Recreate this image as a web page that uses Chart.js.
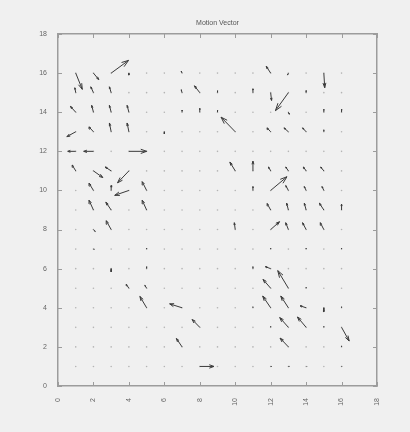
<!DOCTYPE html>
<html>
<head>
<meta charset="utf-8">
<title>Motion Vector</title>
<script src="https://cdn.jsdelivr.net/npm/chart.js@4.4.1/dist/chart.umd.min.js"></script>
<style>
  html, body { margin: 0; padding: 0; background: #f0f0f0; }
</style>
</head>
<body>
<canvas id="quiver" width="410" height="432"></canvas>
<script>
// block grid (centres of the 16x16 blocks)
const gridCols = [1, 2, 3, 4, 5, 6, 7, 8, 9, 10, 11, 12, 13, 14, 15, 16];
const gridRows = [1, 2, 3, 4, 5, 6, 7, 8, 9, 10, 11, 12, 13, 14, 15, 16];

// non-zero motion vectors, row by row from the top
const arrowX = [
  1, 2, 3, 4, 7, 12, 13, 15,
  1, 2, 3, 7, 8, 9, 11, 12, 13, 14,
  1, 2, 3, 4, 7, 8, 9, 13, 15, 16,
  1, 2, 3, 4, 6, 10, 12, 13, 14, 15,
  1, 2, 4,
  1, 2, 3, 4, 10, 11, 12, 13, 14, 15,
  2, 3, 4, 5, 11, 12, 13, 14, 15,
  2, 3, 5, 12, 13, 14, 15, 16,
  2, 3, 10, 12, 13, 14, 15,
  2, 5, 12, 14, 16,
  3, 5, 11, 12,
  4, 5, 12, 13, 14,
  5, 7, 11, 12, 13, 14, 15, 16,
  8, 12, 13, 14, 15, 16,
  7, 13, 16,
  8, 12, 13, 14, 16
];
const arrowY = [
  16, 16, 16, 16, 16, 16, 16, 16,
  15, 15, 15, 15, 15, 15, 15, 15, 15, 15,
  14, 14, 14, 14, 14, 14, 14, 14, 14, 14,
  13, 13, 13, 13, 13, 13, 13, 13, 13, 13,
  12, 12, 12,
  11, 11, 11, 11, 11, 11, 11, 11, 11, 11,
  10, 10, 10, 10, 10, 10, 10, 10, 10,
  9, 9, 9, 9, 9, 9, 9, 9,
  8, 8, 8, 8, 8, 8, 8,
  7, 7, 7, 7, 7,
  6, 6, 6, 6,
  5, 5, 5, 5, 5,
  4, 4, 4, 4, 4, 4, 4, 4,
  3, 3, 3, 3, 3, 3,
  2, 2, 2,
  1, 1, 1, 1, 1
];
const arrowU = [
  0.37, 0.3, 0.98, 0, -0.05, -0.25, -0.05, 0.05,
  -0.05, -0.15, -0.1, -0.05, -0.3, 0, 0, 0.05, -0.73, 0,
  -0.3, -0.1, -0.1, -0.1, 0, 0, 0, 0.05, 0, 0,
  -0.5, -0.25, -0.1, -0.1, 0, -0.8, -0.2, -0.25, -0.2, 0,
  -0.45, -0.55, 1.0,
  -0.2, 0.53, -0.34, -0.64, -0.3, 0, -0.12, -0.15, -0.15, -0.18,
  -0.25, 0, -0.8, -0.25, 0, 0.92, -0.15, -0.1, -0.1,
  -0.25, -0.3, -0.25, -0.2, -0.1, -0.1, -0.25, 0,
  0.1, -0.28, -0.05, 0.5, -0.15, -0.2, -0.2,
  0.05, 0, 0, 0, 0,
  0, 0, 0, -0.3,
  -0.15, -0.1, -0.43, -0.6, 0,
  -0.38, -0.7, 0, -0.45, -0.43, -0.34, 0, 0,
  -0.43, 0, -0.49, -0.49, 0, 0.43,
  -0.32, -0.47, 0,
  0.8, 0.05, 0.05, 0.05, 0.03
];
const arrowV = [
  -0.83, -0.33, 0.65, -0.1, 0.1, 0.35, -0.1, -0.75,
  0.25, 0.3, 0.3, 0.15, 0.35, 0.1, 0.2, -0.4, -0.92, 0.1,
  0.3, 0.35, 0.35, 0.35, 0.1, 0.2, 0.1, -0.1, 0.15, 0.15,
  -0.25, 0.25, 0.45, 0.45, -0.1, 0.75, 0.2, 0.2, 0.2, 0.1,
  0, 0, 0,
  0.3, -0.34, 0.2, -0.61, 0.45, 0.5, 0.2, 0.2, 0.2, 0.2,
  0.37, 0.25, -0.25, 0.45, 0.2, 0.7, 0.25, 0.2, 0.2,
  0.5, 0.4, 0.5, 0.33, 0.35, 0.35, 0.35, 0.3,
  -0.1, 0.45, 0.35, 0.4, 0.35, 0.35, 0.35,
  0, 0.05, 0.05, 0.05, 0.05,
  -0.15, 0.1, 0.1, 0.1,
  0.2, 0.15, 0.45, 0.9, 0.05,
  0.58, 0.2, 0.05, 0.6, 0.6, 0.1, -0.2, 0.05,
  0.4, 0.05, 0.5, 0.53, 0.05, -0.7,
  0.43, 0.45, 0.05,
  0, 0, 0, 0, 0
];

const xTickVals = [0, 2, 4, 6, 8, 10, 12, 14, 16, 18];
const yTickVals = [0, 2, 4, 6, 8, 10, 12, 14, 16, 18];

const HEAD = 0.33; // matlab quiver head size / width
const axisColor = "#9c9c9c";
const labelFont = { family: "'Liberation Sans', Arial, sans-serif", size: 7 };

// one dot per block
const gridPoints = [];
gridRows.forEach((y) => {
  gridCols.forEach((x) => gridPoints.push({ x: x, y: y }));
});

// shafts + open heads, broken apart by null points
const shafts = [];
arrowX.forEach((x0, i) => {
  const y0 = arrowY[i];
  const u = arrowU[i];
  const v = arrowV[i];
  const x1 = x0 + u;
  const y1 = y0 + v;
  shafts.push({ x: x0, y: y0 }, { x: x1, y: y1 }, { x: x1, y: null });
  shafts.push(
    { x: x1 - HEAD * (u + HEAD * v), y: y1 - HEAD * (v - HEAD * u) },
    { x: x1, y: y1 },
    { x: x1 - HEAD * (u - HEAD * v), y: y1 - HEAD * (v + HEAD * u) },
    { x: x1, y: null }
  );
});

// ticks pointing into the box, on all four sides
const inwardTicks = {
  id: "inwardTicks",
  afterDatasetsDraw(chart) {
    const { ctx, chartArea: a, scales } = chart;
    ctx.save();
    ctx.strokeStyle = axisColor;
    ctx.lineWidth = 1;
    ctx.beginPath();
    scales.x.ticks.forEach((t) => {
      const px = Math.round(scales.x.getPixelForValue(t.value)) + 0.5;
      ctx.moveTo(px, a.bottom);
      ctx.lineTo(px, a.bottom - 4);
      ctx.moveTo(px, a.top);
      ctx.lineTo(px, a.top + 4);
    });
    scales.y.ticks.forEach((t) => {
      const py = Math.round(scales.y.getPixelForValue(t.value)) + 0.5;
      ctx.moveTo(a.left, py);
      ctx.lineTo(a.left + 4, py);
      ctx.moveTo(a.right, py);
      ctx.lineTo(a.right - 4, py);
    });
    ctx.stroke();
    ctx.restore();
  },
};

// title centred over the axes box
const boxTitle = {
  id: "boxTitle",
  afterDraw(chart) {
    const { ctx, chartArea: a } = chart;
    ctx.save();
    ctx.font = "7px 'Liberation Sans', Arial, sans-serif";
    ctx.fillStyle = "#555";
    ctx.textAlign = "center";
    ctx.textBaseline = "middle";
    ctx.fillText("Motion Vector", (a.left + a.right) / 2, 23);
    ctx.restore();
  },
};

const ctx = document.getElementById("quiver").getContext("2d");

new Chart(ctx, {
  type: "scatter",
  data: {
    datasets: [
      {
        label: "vectors",
        data: shafts,
        showLine: true,
        spanGaps: false,
        borderColor: "#3a3a3a",
        borderWidth: 1,
        pointRadius: 0,
        pointHoverRadius: 0,
      },
      {
        label: "blocks",
        data: gridPoints,
        pointRadius: 0.8,
        pointBorderWidth: 0,
        pointBackgroundColor: "#b4b4b4",
      },
    ],
  },
  options: {
    responsive: false,
    animation: false,
    layout: { padding: 0 },
    plugins: {
      legend: { display: false },
      tooltip: { enabled: false },
      title: { display: false },
    },
    scales: {
      x: {
        type: "linear",
        position: "bottom",
        min: 0,
        max: 18,
        grid: { display: false },
        border: { color: axisColor, width: 1.5 },
        ticks: {
          font: labelFont,
          color: "#666",
          padding: 4,
          minRotation: 90,
          maxRotation: 90,
          autoSkip: false,
        },
        afterBuildTicks: (s) => {
          s.ticks = xTickVals.map((v) => ({ value: v }));
        },
        afterFit: (s) => {
          s.height = 46;
        },
      },
      y: {
        type: "linear",
        position: "left",
        min: 0,
        max: 18,
        grid: { display: false },
        border: { color: axisColor, width: 1.5 },
        ticks: { font: labelFont, color: "#666", padding: 3, autoSkip: false },
        afterBuildTicks: (s) => {
          s.ticks = yTickVals.map((v) => ({ value: v }));
        },
        afterFit: (s) => {
          s.width = 58;
        },
      },
      x2: {
        type: "linear",
        position: "top",
        min: 0,
        max: 18,
        grid: { display: false },
        border: { color: axisColor, width: 1.5 },
        ticks: { display: false },
        afterFit: (s) => {
          s.height = 34;
        },
      },
      y2: {
        type: "linear",
        position: "right",
        min: 0,
        max: 18,
        grid: { display: false },
        border: { color: axisColor, width: 1.5 },
        ticks: { display: false },
        afterFit: (s) => {
          s.width = 33;
        },
      },
    },
  },
  plugins: [inwardTicks, boxTitle],
});
</script>
</body>
</html>
